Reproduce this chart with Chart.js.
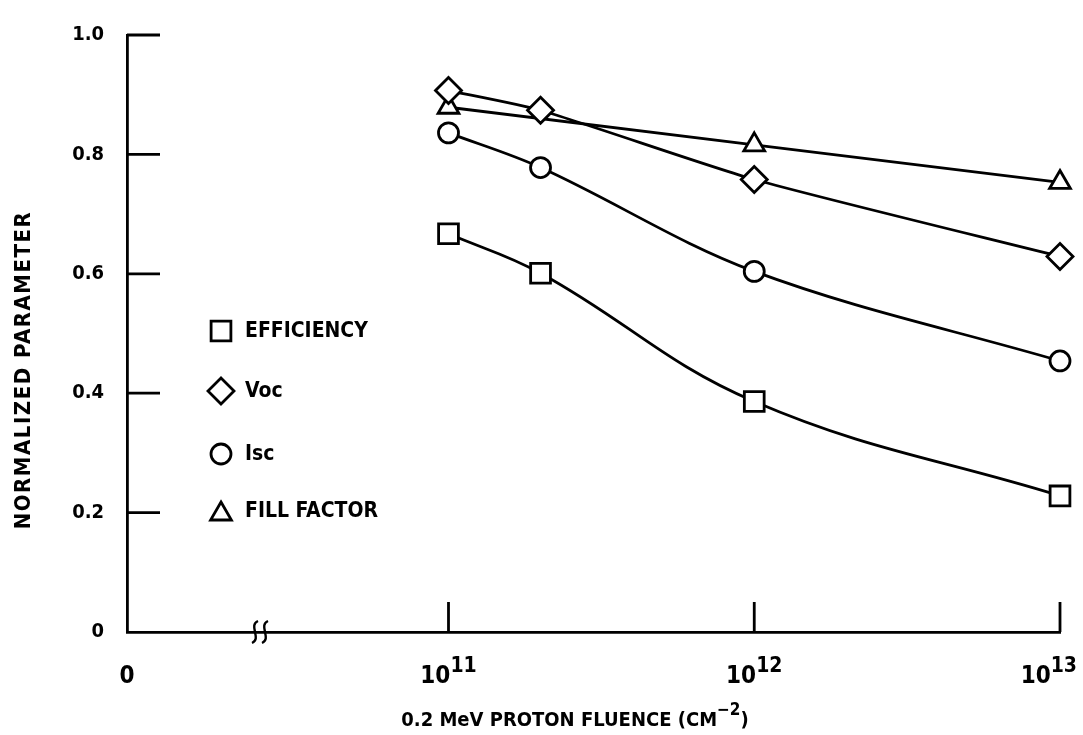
<!DOCTYPE html>
<html>
<head>
<meta charset="utf-8">
<script src="https://cdn.jsdelivr.net/npm/chart.js@4.4.1/dist/chart.umd.min.js"></script>
<style>
    html, body { margin: 0; padding: 0; background: #fff; }
    #chartWrapper { width: 1083px; height: 735px; }
</style>
</head>
<body>
<div id="chartWrapper"><canvas id="chart" width="1083" height="735"></canvas></div>
<script>
'use strict';

// Values (fluence in cm^-2, parameters normalized)
const fluence = [1e11, 2e11, 1e12, 1e13];
const fillFluence = [1e11, 1e12, 1e13];
const efficiency = [0.667, 0.601, 0.386, 0.228];
const voc = [0.907, 0.874, 0.758, 0.629];
const isc = [0.836, 0.778, 0.604, 0.454];
const fillFactor = [0.879, 0.816, 0.753];

const seriesLabels = ['EFFICIENCY', 'Voc', 'Isc', 'FILL FACTOR'];
const yTickValues = [0, 0.2, 0.4, 0.6, 0.8, 1.0];
const yTickLabels = ['0', '0.2', '0.4', '0.6', '0.8', '1.0'];
const xTickValues = [1e11, 1e12, 1e13];
const xTickBase = '10';
const xTickExponents = ['11', '12', '13'];
const xZeroLabel = '0';
const xTitleText = '0.2 MeV PROTON FLUENCE (CM';
const xTitleExponent = '\u22122';
const yTitleText = 'NORMALIZED PARAMETER';

const FONT = "'Liberation Sans Narrow', 'DejaVu Sans Condensed', 'Liberation Sans', sans-serif";
const INK = '#000';
const LINE_W = 2.8;

const toPoints = function (xs, ys) {
    return xs.map((x, i) => ({ x: x, y: ys[i] }));
};

const makeDataset = function (label, data, pointStyle, radius, tension) {
    return {
        label: label,
        data: data,
        pointStyle: pointStyle,
        pointRadius: radius,
        pointHoverRadius: radius,
        borderColor: INK,
        borderWidth: LINE_W,
        pointBackgroundColor: '#fff',
        pointBorderColor: INK,
        pointBorderWidth: LINE_W,
        tension: tension,
        fill: false,
        clip: false,
    };
};

const datasets = [
    makeDataset(seriesLabels[0], toPoints(fluence, efficiency), 'rect', 14, 0.4),
    makeDataset(seriesLabels[1], toPoints(fluence, voc), 'rectRot', 13, 0.2),
    makeDataset(seriesLabels[2], toPoints(fluence, isc), 'circle', 10, 0.35),
    makeDataset(seriesLabels[3], toPoints(fillFluence, fillFactor), 'triangle', 12, 0),
];

// Inward ticks, superscript labels, axis break, titles and the legend
const decorations = {
    id: 'decorations',
    afterDraw(chart) {
        const ctx = chart.ctx;
        const area = chart.chartArea;
        const xs = chart.scales.x;
        const ys = chart.scales.y;
        ctx.save();
        ctx.strokeStyle = INK;
        ctx.fillStyle = INK;
        ctx.lineWidth = LINE_W;

        // y ticks point into the plot
        yTickValues.forEach((v) => {
            if (v === 0) return;
            const y = ys.getPixelForValue(v);
            ctx.beginPath();
            ctx.moveTo(area.left, y);
            ctx.lineTo(area.left + 33, y);
            ctx.stroke();
        });

        // x ticks point up
        xTickValues.forEach((v) => {
            const x = xs.getPixelForValue(v);
            ctx.beginPath();
            ctx.moveTo(x, area.bottom);
            ctx.lineTo(x, area.bottom - 30);
            ctx.stroke();
        });

        // axis break between 0 and 10^11
        const bx = area.left + 133;
        const by = area.bottom;
        ctx.lineWidth = 2.4;
        [-5, 5].forEach((dx) => {
            ctx.beginPath();
            ctx.moveTo(bx + dx + 3, by - 11);
            ctx.bezierCurveTo(bx + dx - 7, by - 7, bx + dx + 7, by + 7, bx + dx - 3, by + 11);
            ctx.stroke();
        });

        // x tick labels with exponents
        const baseY = 683;
        ctx.textBaseline = 'alphabetic';
        ctx.textAlign = 'left';
        xTickValues.forEach((v, i) => {
            const x = xs.getPixelForValue(v);
            ctx.font = `bold 24px ${FONT}`;
            const w1 = ctx.measureText(xTickBase).width;
            ctx.font = `bold 21px ${FONT}`;
            const w2 = ctx.measureText(xTickExponents[i]).width;
            const start = Math.min(x - (w1 + w2) / 2, chart.width - 6 - (w1 + w2));
            ctx.font = `bold 24px ${FONT}`;
            ctx.fillText(xTickBase, start, baseY);
            ctx.font = `bold 21px ${FONT}`;
            ctx.fillText(xTickExponents[i], start + w1, baseY - 11);
        });
        ctx.font = `bold 24px ${FONT}`;
        ctx.textAlign = 'center';
        ctx.fillText(xZeroLabel, xs.getPixelForValue(xs.min), baseY);

        // x axis title
        ctx.textAlign = 'left';
        ctx.font = `bold 20px ${FONT}`;
        const tw = ctx.measureText(xTitleText).width;
        ctx.font = `bold 17px ${FONT}`;
        const ew = ctx.measureText(xTitleExponent).width;
        ctx.font = `bold 20px ${FONT}`;
        const cw = ctx.measureText(')').width;
        const tx = 575 - (tw + ew + cw) / 2;
        ctx.fillText(xTitleText, tx, 726);
        ctx.font = `bold 17px ${FONT}`;
        ctx.fillText(xTitleExponent, tx + tw, 715);
        ctx.font = `bold 20px ${FONT}`;
        ctx.fillText(')', tx + tw + ew, 726);

        // y axis title
        ctx.save();
        ctx.translate(24, 370);
        ctx.rotate(-Math.PI / 2);
        ctx.font = `bold 22px ${FONT}`;
        ctx.letterSpacing = '1.5px';
        ctx.textAlign = 'center';
        ctx.textBaseline = 'middle';
        ctx.fillText(yTitleText, 0, 0);
        ctx.restore();

        // legend inside the plot
        const legendY = [331, 391, 454, 511];
        ctx.font = `bold 21px ${FONT}`;
        ctx.textBaseline = 'middle';
        ctx.textAlign = 'left';
        chart.data.datasets.forEach((ds, i) => {
            ctx.fillStyle = '#fff';
            ctx.strokeStyle = INK;
            ctx.lineWidth = LINE_W;
            Chart.helpers.drawPoint(ctx, {
                pointStyle: ds.pointStyle,
                radius: ds.pointRadius,
                borderWidth: LINE_W,
                rotation: 0,
            }, 221, legendY[i] + (ds.pointStyle === 'triangle' ? 3 : 0));
            ctx.fillStyle = INK;
            ctx.fillText(ds.label, 245, legendY[i] + 1);
        });
        ctx.restore();
    },
};

new Chart(document.getElementById('chart'), {
    type: 'line',
    data: { datasets: datasets },
    options: {
        responsive: false,
        animation: false,
        devicePixelRatio: 1,
        events: [],
        layout: { padding: { left: 0, right: 23, top: 28, bottom: 0 } },
        plugins: {
            legend: { display: false },
            tooltip: { enabled: false },
        },
        scales: {
            x: {
                type: 'logarithmic',
                min: Math.pow(10, 9.9485),
                max: 1e13,
                grid: { display: false, drawTicks: false },
                border: { display: true, color: INK, width: LINE_W },
                ticks: { display: false },
                afterFit: function (scale) {
                    scale.height = 103;
                },
            },
            y: {
                min: 0,
                max: 1,
                grid: { display: false, drawTicks: false },
                border: { display: true, color: INK, width: LINE_W },
                afterBuildTicks: function (scale) {
                    scale.ticks = yTickValues.map((v) => ({ value: v }));
                },
                ticks: {
                    padding: 23,
                    color: INK,
                    font: { family: FONT, size: 20, weight: 'bold' },
                    callback: function (value, index) {
                        return yTickLabels[index];
                    },
                },
                afterFit: function (scale) {
                    scale.width = 127;
                },
            },
        },
    },
    plugins: [decorations],
});
</script>
</body>
</html>
